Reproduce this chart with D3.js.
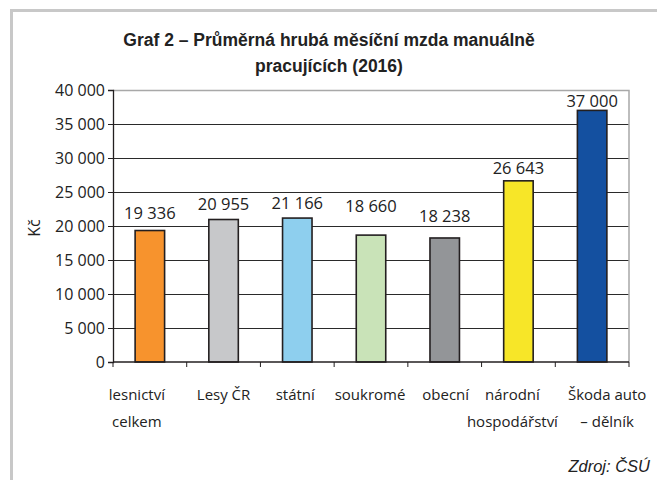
<!DOCTYPE html>
<html>
<head>
<meta charset="utf-8">
<script src="https://cdn.jsdelivr.net/npm/d3@7"></script>
<style>
  body { margin: 0; background: #fff; }
  svg text { fill: #222; }
</style>
</head>
<body>
<div id="chart"></div>
<script>
// data
const categories = [
  ["lesnictví", "celkem"],
  ["Lesy ČR"],
  ["státní"],
  ["soukromé"],
  ["obecní"],
  ["národní", "hospodářství"],
  ["Škoda auto", "– dělník"]
];
const wages = [19336, 20955, 21166, 18660, 18238, 26643, 37000];
const barColors = ["#f7932d", "#c7c8ca", "#8ecfee", "#c9e3b8", "#939598", "#f7e628", "#1450a0"];
const yTicks = [0, 5000, 10000, 15000, 20000, 25000, 30000, 35000, 40000];
const titleLines = ["Graf 2 – Průměrná hrubá měsíční mzda manuálně", "pracujících (2016)"];

const width = 657, height = 480;
const margins = {top: 90, left: 113, right: 28, bottom: 118};
const font = "'Open Sans', sans-serif";
// the source places its labels unevenly; keep those offsets
const labelShift = [-13, 0, -2, -1, 1, -6, 15];
const valueLift = [12, 10, 9, 23, 16, 7, 3];

const fmt = v => d3.format(",")(v).replace(/,/g, " ");

const svg = d3.select("#chart").append("svg")
    .attr("width", width)
    .attr("height", height);

// outer frame (top and left)
svg.append("path")
    .attr("d", `M11.5,${height} V10.5 H${width}`)
    .attr("fill", "none")
    .attr("stroke", "#c8c8c8")
    .attr("stroke-width", 3);

// title
svg.append("text")
    .attr("x", 329)
    .attr("y", 46)
    .attr("text-anchor", "middle")
    .style("font-family", "'Liberation Sans', sans-serif")
    .style("font-weight", "bold")
    .style("font-size", "17.5px")
    .selectAll("tspan")
    .data(titleLines)
    .join("tspan")
    .attr("x", 329)
    .attr("dy", (d, i) => i === 0 ? 0 : 26)
    .text(d => d);

const bodyW = width - margins.left - margins.right;
const bodyH = height - margins.top - margins.bottom;

const x = d3.scaleBand()
    .domain(d3.range(categories.length))
    .range([0, bodyW])
    .paddingInner(0.6)
    .paddingOuter(0.3);

const y = d3.scaleLinear()
    .domain([0, 40000])
    .range([bodyH, 0]);

const body = svg.append("g")
    .attr("transform", `translate(${margins.left},${margins.top})`);

// gridlines
body.append("g")
    .selectAll("line")
    .data(yTicks.filter(t => t > 0 && t < 40000))
    .join("line")
    .attr("x1", 0)
    .attr("x2", bodyW)
    .attr("y1", d => Math.round(y(d)) + 0.5)
    .attr("y2", d => Math.round(y(d)) + 0.5)
    .attr("stroke", "#2a2a2a")
    .attr("stroke-width", 1);

// plot border top/right
body.append("path")
    .attr("d", `M0,${y(40000) + 0.5} H${bodyW} V${bodyH}`)
    .attr("fill", "none")
    .attr("stroke", "#a8a8a8")
    .attr("stroke-width", 1.5);

// bars
body.append("g")
    .selectAll("rect")
    .data(wages)
    .join("rect")
    .attr("x", (d, i) => x(i))
    .attr("y", d => y(d))
    .attr("width", x.bandwidth())
    .attr("height", d => bodyH - y(d))
    .attr("fill", (d, i) => barColors[i])
    .attr("stroke", "#231f20")
    .attr("stroke-width", 1.6);

// value labels
body.append("g")
    .selectAll("text")
    .data(wages)
    .join("text")
    .attr("x", (d, i) => x(i) + x.bandwidth() / 2)
    .attr("y", (d, i) => y(d) - valueLift[i])
    .attr("text-anchor", "middle")
    .style("font-family", font)
    .style("font-size", "16.5px")
    .text(d => fmt(d));

// y axis
const yAxis = body.append("g")
    .call(d3.axisLeft(y).tickValues(yTicks).tickSize(5).tickPadding(3).tickFormat(fmt));
yAxis.select(".domain").attr("stroke", "#231f20").attr("stroke-width", 1.3);
yAxis.selectAll(".tick line").attr("stroke", "#231f20");
yAxis.selectAll(".tick text")
    .style("font-family", font)
    .style("font-size", "16px")
    .attr("fill", "#222");

// x axis with ticks between categories
const xEdge = d3.scaleLinear().domain([0, categories.length]).range([0, bodyW]);
const xAxis = body.append("g")
    .attr("transform", `translate(0,${bodyH})`);
xAxis.append("line")
    .attr("x1", 0).attr("x2", bodyW)
    .attr("stroke", "#231f20").attr("stroke-width", 1.3);
xAxis.selectAll(".edge")
    .data(d3.range(categories.length + 1))
    .join("line")
    .attr("class", "edge")
    .attr("x1", d => xEdge(d)).attr("x2", d => xEdge(d))
    .attr("y1", 0).attr("y2", 5)
    .attr("stroke", "#231f20");

xAxis.selectAll(".cat")
    .data(categories)
    .join("text")
    .attr("class", "cat")
    .attr("text-anchor", "middle")
    .attr("y", 38)
    .style("font-family", font)
    .style("font-size", "15px")
    .selectAll("tspan")
    .data((d, i) => d.map(s => ({s, i})))
    .join("tspan")
    .attr("x", d => x(d.i) + x.bandwidth() / 2 + labelShift[d.i])
    .attr("dy", (d, j) => j === 0 ? 0 : 27)
    .text(d => d.s);

// y axis title
svg.append("text")
    .attr("transform", "translate(40,228) rotate(-90)")
    .attr("text-anchor", "middle")
    .style("font-family", font)
    .style("font-size", "16px")
    .text("Kč");

// source
svg.append("text")
    .attr("x", 650)
    .attr("y", 472)
    .attr("text-anchor", "end")
    .style("font-family", "'Liberation Sans', Arial, sans-serif")
    .style("font-style", "italic")
    .style("font-size", "16.5px")
    .text("Zdroj: ČSÚ");
</script>
</body>
</html>
